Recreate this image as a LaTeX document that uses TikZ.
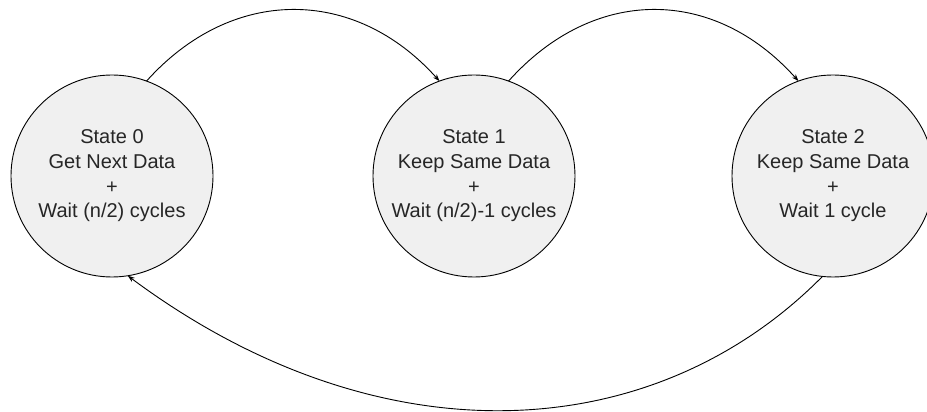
\documentclass[tikz,border=0pt]{standalone}
\usepackage{fontspec}
\setmainfont{Liberation Sans}
\usetikzlibrary{arrows.meta}
\begin{document}
\begin{tikzpicture}[x=1pt,y=1pt,
  statenode/.style={circle, draw=black, line width=0.9pt, fill=black!6,
    minimum size=202pt, inner sep=0pt, outer sep=0pt, align=center,
    font=\fontsize{20}{24.7}\selectfont, text=black!85},
  arr/.style={line width=0.9pt, -{Stealth[length=7pt,width=5pt]}}]
  \useasboundingbox (0,0) rectangle (927,412);
  \fill[white] (0,0) rectangle (927,412);

  \node[statenode] (s0) at (112,236) {State 0\\Get Next Data\\+\\Wait (n/2) cycles};
  \node[statenode] (s1) at (474,236) {State 1\\Keep Same Data\\+\\Wait (n/2)-1 cycles};
  \node[statenode] (s2) at (833,236) {State 2\\Keep Same Data\\+\\Wait 1 cycle};

  \draw[arr] (s0.70) .. controls +(85,95) and +(-85,95) .. (s1.110);
  \draw[arr] (s1.70) .. controls +(85,95) and +(-85,95) .. (s2.110);
  \draw[arr] (s2.264) .. controls +(-170,-172) and +(250,-186) .. (s0.279);
\end{tikzpicture}
\end{document}
